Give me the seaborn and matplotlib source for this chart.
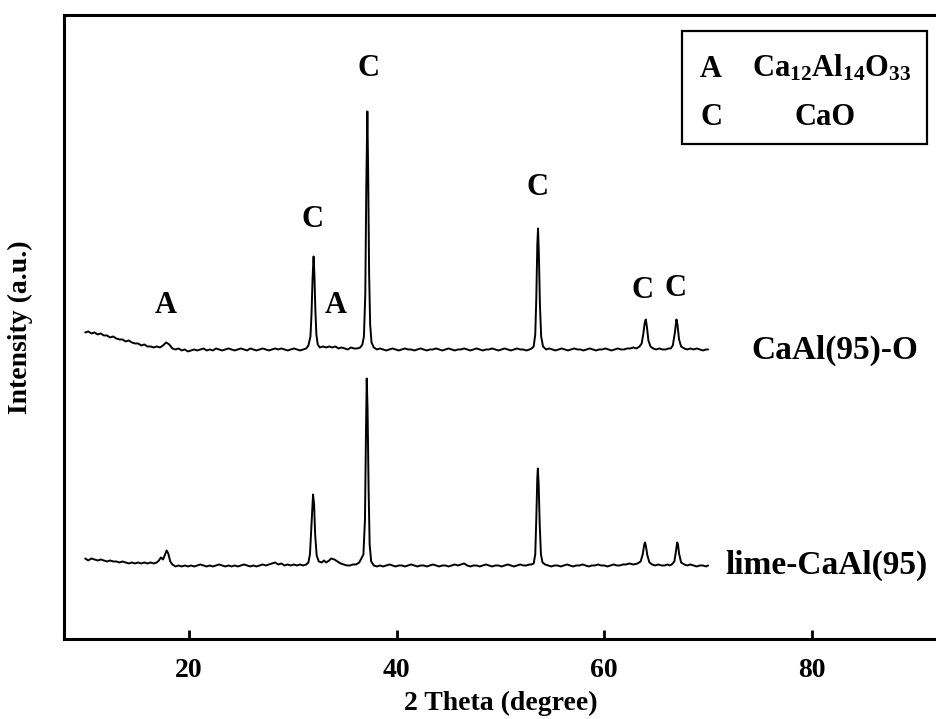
import matplotlib
matplotlib.use("Agg")
import matplotlib.pyplot as plt
import pandas as pd
import seaborn as sns
from matplotlib.patches import Rectangle

# XRD pattern of the fresh sorbent, (2theta in degrees, counts in a.u.)
lime_pattern = [
    (10.0, 81), (10.3, 79), (10.6, 81), (10.9, 80), (11.2, 79), (11.5, 80), (11.8, 79),
    (12.1, 78), (12.4, 79), (12.7, 78), (13.0, 78), (13.3, 77), (13.6, 78), (13.9, 77),
    (14.2, 76), (14.5, 77), (14.8, 76), (15.1, 77), (15.4, 76), (15.7, 77), (16.0, 76),
    (16.3, 77), (16.6, 76), (16.9, 77), (17.1, 79), (17.3, 82), (17.5, 80), (17.7, 85),
    (17.85, 89), (18.0, 86), (18.2, 78), (18.4, 75), (18.7, 73), (19.0, 74), (19.3, 73),
    (19.6, 74), (19.9, 73), (20.2, 74), (20.5, 73), (20.8, 74), (21.1, 75), (21.4, 74),
    (21.7, 73), (22.0, 74), (22.3, 73), (22.6, 74), (22.9, 75), (23.2, 74), (23.5, 73),
    (23.8, 74), (24.1, 73), (24.4, 74), (24.7, 73), (25.0, 74), (25.3, 75), (25.6, 74),
    (25.9, 73), (26.2, 74), (26.5, 73), (26.8, 74), (27.1, 75), (27.4, 74), (27.7, 75),
    (28.0, 76), (28.3, 77), (28.6, 75), (28.9, 76), (29.2, 74), (29.5, 75), (29.8, 74),
    (30.1, 75), (30.4, 74), (30.7, 75), (31.0, 74), (31.3, 75), (31.5, 77), (31.65, 85),
    (31.8, 115), (31.95, 145), (32.05, 135), (32.15, 105), (32.3, 84), (32.5, 78),
    (32.8, 77), (33.0, 79), (33.2, 77), (33.5, 79), (33.7, 81), (34.0, 80), (34.3, 78),
    (34.6, 76), (34.9, 75), (35.2, 74), (35.5, 74), (35.8, 75), (36.1, 75), (36.4, 77),
    (36.6, 81), (36.8, 85), (36.95, 120), (37.05, 210), (37.12, 261), (37.2, 230),
    (37.3, 150), (37.4, 95), (37.55, 78), (37.8, 74), (38.1, 73), (38.4, 74), (38.7, 73),
    (39.0, 74), (39.3, 75), (39.6, 74), (39.9, 73), (40.2, 74), (40.5, 74), (40.8, 73),
    (41.1, 74), (41.4, 75), (41.7, 74), (42.0, 73), (42.3, 74), (42.6, 74), (42.9, 73),
    (43.2, 74), (43.5, 75), (43.8, 74), (44.1, 73), (44.4, 74), (44.7, 74), (45.0, 73),
    (45.3, 74), (45.6, 75), (45.9, 74), (46.2, 75), (46.5, 76), (46.8, 74), (47.1, 73),
    (47.4, 74), (47.7, 74), (48.0, 73), (48.3, 74), (48.6, 75), (48.9, 74), (49.2, 73),
    (49.5, 74), (49.8, 74), (50.1, 73), (50.4, 74), (50.7, 75), (51.0, 74), (51.3, 73),
    (51.6, 74), (51.9, 75), (52.2, 74), (52.5, 74), (52.8, 75), (53.0, 75), (53.2, 76),
    (53.35, 85), (53.45, 120), (53.55, 162), (53.6, 171), (53.68, 155), (53.78, 115),
    (53.9, 85), (54.05, 77), (54.3, 75), (54.6, 74), (54.9, 73), (55.2, 74), (55.5, 74),
    (55.8, 73), (56.1, 74), (56.4, 75), (56.7, 74), (57.0, 73), (57.3, 74), (57.6, 74),
    (57.9, 75), (58.2, 74), (58.5, 73), (58.8, 74), (59.1, 74), (59.4, 75), (59.7, 74),
    (60.0, 74), (60.3, 73), (60.6, 74), (60.9, 75), (61.2, 74), (61.5, 74), (61.8, 75),
    (62.1, 75), (62.4, 76), (62.8, 75), (63.2, 76), (63.5, 78), (63.7, 85), (63.85, 95),
    (63.92, 97), (64.0, 94), (64.15, 84), (64.35, 77), (64.6, 75), (64.9, 74), (65.2, 75),
    (65.5, 74), (65.8, 74), (66.1, 75), (66.3, 74), (66.5, 75), (66.75, 78), (66.9, 88),
    (67.02, 97), (67.1, 95), (67.2, 86), (67.4, 77), (67.7, 75), (68.0, 74), (68.3, 75),
    (68.6, 74), (68.9, 73), (69.2, 74), (69.5, 74), (69.8, 73), (70.0, 74),
]

# XRD pattern after the oxidation step, (2theta in degrees, counts in a.u.)
oxid_pattern = [
    (10.0, 92), (10.3, 93), (10.6, 91), (10.9, 92), (11.2, 90), (11.5, 91), (11.8, 89),
    (12.1, 89), (12.4, 87), (12.7, 88), (13.0, 86), (13.3, 85), (13.6, 85), (13.9, 83),
    (14.2, 84), (14.5, 82), (14.8, 81), (15.1, 81), (15.4, 79), (15.7, 80), (16.0, 78),
    (16.3, 78), (16.6, 77), (16.9, 78), (17.2, 77), (17.5, 79), (17.8, 82), (18.1, 80),
    (18.4, 76), (18.7, 75), (19.0, 76), (19.3, 74), (19.6, 75), (19.9, 73), (20.2, 74),
    (20.5, 75), (20.8, 74), (21.1, 75), (21.4, 76), (21.7, 74), (22.0, 75), (22.3, 74),
    (22.6, 76), (22.9, 75), (23.2, 74), (23.5, 75), (23.8, 76), (24.1, 75), (24.4, 74),
    (24.7, 75), (25.0, 76), (25.3, 75), (25.6, 74), (25.9, 76), (26.2, 75), (26.5, 74),
    (26.8, 75), (27.1, 76), (27.4, 75), (27.7, 74), (28.0, 75), (28.3, 76), (28.6, 75),
    (28.9, 76), (29.2, 75), (29.5, 74), (29.8, 75), (30.1, 76), (30.4, 75), (30.7, 74),
    (31.0, 75), (31.3, 76), (31.5, 79), (31.7, 88), (31.8, 110), (31.9, 145), (32.0, 168),
    (32.08, 150), (32.17, 115), (32.27, 90), (32.4, 80), (32.6, 77), (32.9, 78),
    (33.2, 77), (33.5, 78), (33.8, 77), (34.1, 78), (34.4, 76), (34.7, 77), (35.0, 76),
    (35.3, 75), (35.6, 77), (35.9, 76), (36.2, 76), (36.5, 77), (36.7, 80), (36.85, 88),
    (36.98, 130), (37.08, 240), (37.18, 313), (37.26, 250), (37.35, 150), (37.45, 100),
    (37.58, 82), (37.8, 77), (38.1, 75), (38.4, 76), (38.7, 75), (39.0, 74), (39.3, 75),
    (39.6, 76), (39.9, 75), (40.2, 74), (40.5, 75), (40.8, 76), (41.1, 75), (41.4, 75),
    (41.7, 74), (42.0, 75), (42.3, 76), (42.6, 75), (42.9, 74), (43.2, 75), (43.5, 75),
    (43.8, 76), (44.1, 75), (44.4, 74), (44.7, 75), (45.0, 76), (45.3, 75), (45.6, 74),
    (45.9, 75), (46.2, 75), (46.5, 76), (46.8, 75), (47.1, 74), (47.4, 75), (47.7, 76),
    (48.0, 75), (48.3, 74), (48.6, 75), (48.9, 75), (49.2, 76), (49.5, 75), (49.8, 74),
    (50.1, 75), (50.4, 76), (50.7, 75), (51.0, 74), (51.3, 75), (51.6, 76), (51.9, 75),
    (52.2, 75), (52.5, 74), (52.8, 75), (53.0, 76), (53.2, 78), (53.35, 90), (53.45, 125),
    (53.55, 180), (53.62, 196), (53.7, 170), (53.8, 120), (53.92, 88), (54.1, 78),
    (54.4, 75), (54.7, 76), (55.0, 75), (55.3, 74), (55.6, 75), (55.9, 76), (56.2, 75),
    (56.5, 74), (56.8, 75), (57.1, 76), (57.4, 75), (57.7, 75), (58.0, 74), (58.3, 75),
    (58.6, 76), (58.9, 75), (59.2, 74), (59.5, 75), (59.8, 75), (60.1, 76), (60.4, 75),
    (60.7, 74), (61.0, 75), (61.3, 76), (61.6, 75), (61.9, 75), (62.2, 76), (62.5, 76),
    (62.8, 77), (63.1, 76), (63.4, 78), (63.6, 81), (63.75, 90), (63.9, 102), (64.0, 105),
    (64.1, 98), (64.25, 84), (64.45, 78), (64.7, 76), (65.0, 75), (65.3, 76), (65.6, 75),
    (65.9, 75), (66.2, 76), (66.4, 76), (66.6, 79), (66.8, 92), (66.95, 105), (67.05, 100),
    (67.2, 85), (67.4, 78), (67.7, 76), (68.0, 75), (68.3, 76), (68.6, 75), (68.9, 76),
    (69.2, 75), (69.5, 74), (69.8, 75), (70.0, 75),
]

sample_names = ["lime-CaAl(95)", "CaAl(95)-O"]
stack_offsets = [0, 215]

# phase markers above the CaAl(95)-O pattern: (label, 2theta, height)
phase_marks = [
    ("A", 17.8, 334), ("C", 31.9, 420), ("A", 34.1, 334), ("C", 37.3, 571),
    ("C", 53.6, 452), ("C", 63.7, 349), ("C", 66.9, 351),
]
phase_keys = ["A", "C"]
phase_names = [r"Ca$_{12}$Al$_{14}$O$_{33}$", "CaO"]

x_ticks = [20, 40, 60, 80]

sns.set_theme(style="ticks")
plt.rcParams["font.family"] = ["Liberation Serif", "DejaVu Serif"]
plt.rcParams["font.weight"] = "bold"
plt.rcParams["mathtext.fontset"] = "custom"
plt.rcParams["mathtext.rm"] = "Liberation Serif:bold"
plt.rcParams["mathtext.it"] = "Liberation Serif:bold"
plt.rcParams["mathtext.bf"] = "Liberation Serif:bold"
for key in ["text.color", "axes.labelcolor", "xtick.color", "ytick.color",
            "axes.edgecolor"]:
    plt.rcParams[key] = "black"

frames = []
for name, pattern, off in zip(sample_names, [lime_pattern, oxid_pattern], stack_offsets):
    df = pd.DataFrame(pattern, columns=["theta", "counts"])
    df["shifted"] = df["counts"] + off
    df["sample"] = name
    frames.append(df)
data = pd.concat(frames, ignore_index=True)

fig = plt.figure(figsize=(9.36, 7.19), dpi=100)
ax = fig.add_axes([0.0688, 0.1106, 0.9362, 0.8686])

sns.lineplot(data=data, x="theta", y="shifted", units="sample", estimator=None,
             sort=False, color="black", linewidth=1.4, ax=ax)

x_lo, x_hi = 8, 92.4
ax.set_xlim(x_lo, x_hi)
ax.set_ylim(0, 624.5)
ax.set_xticks(x_ticks)
ax.set_yticks([])
ax.tick_params(axis="x", direction="in", length=6.5, width=2.0, pad=13,
               labelsize=20, top=False, colors="black")
for lbl in ax.get_xticklabels():
    lbl.set_fontweight("bold")
for sp in ax.spines.values():
    sp.set_linewidth(2.2)
    sp.set_color("black")

ax.set_xlabel("2 Theta (degree)", fontsize=20, fontweight="bold", color="black")
ax.set_ylabel("Intensity (a.u.)", fontsize=20, fontweight="bold", color="black")
ax.xaxis.set_label_coords((50 - x_lo) / (x_hi - x_lo), -0.083)
ax.yaxis.set_label_coords(-0.036, 0.5)

for lab, th, h in phase_marks:
    ax.text(th, h, lab, fontsize=22, fontweight="bold", ha="center", va="center",
            color="black")

# sample names to the right of each pattern
label_pos = [(71.7, 74.5), (74.2, 289.5)]
for name, (th, h) in zip(sample_names, label_pos):
    ax.text(th, h, name, fontsize=24, fontweight="bold", ha="left", va="center",
            color="black")

# phase key box (2theta horizontally, axes fraction vertically)
key_box = ax.get_xaxis_transform()
ax.add_patch(Rectangle((67.45, 0.7934), 23.6, 0.1815, transform=key_box,
                       fill=False, edgecolor="black", linewidth=1.6, zorder=5))
key_rows = [0.901, 0.824]
for key, yb in zip(phase_keys, key_rows):
    ax.text(70.3, yb, key, transform=key_box, fontsize=22, fontweight="bold",
            ha="center", va="baseline", color="black")
for pname, yb, xpos, ha in zip(phase_names, key_rows, [74.2, 81.25], ["left", "center"]):
    ax.text(xpos, yb, pname, transform=key_box, fontsize=22, fontweight="bold",
            ha=ha, va="baseline", color="black")

fig.savefig("out.png", dpi=100)
